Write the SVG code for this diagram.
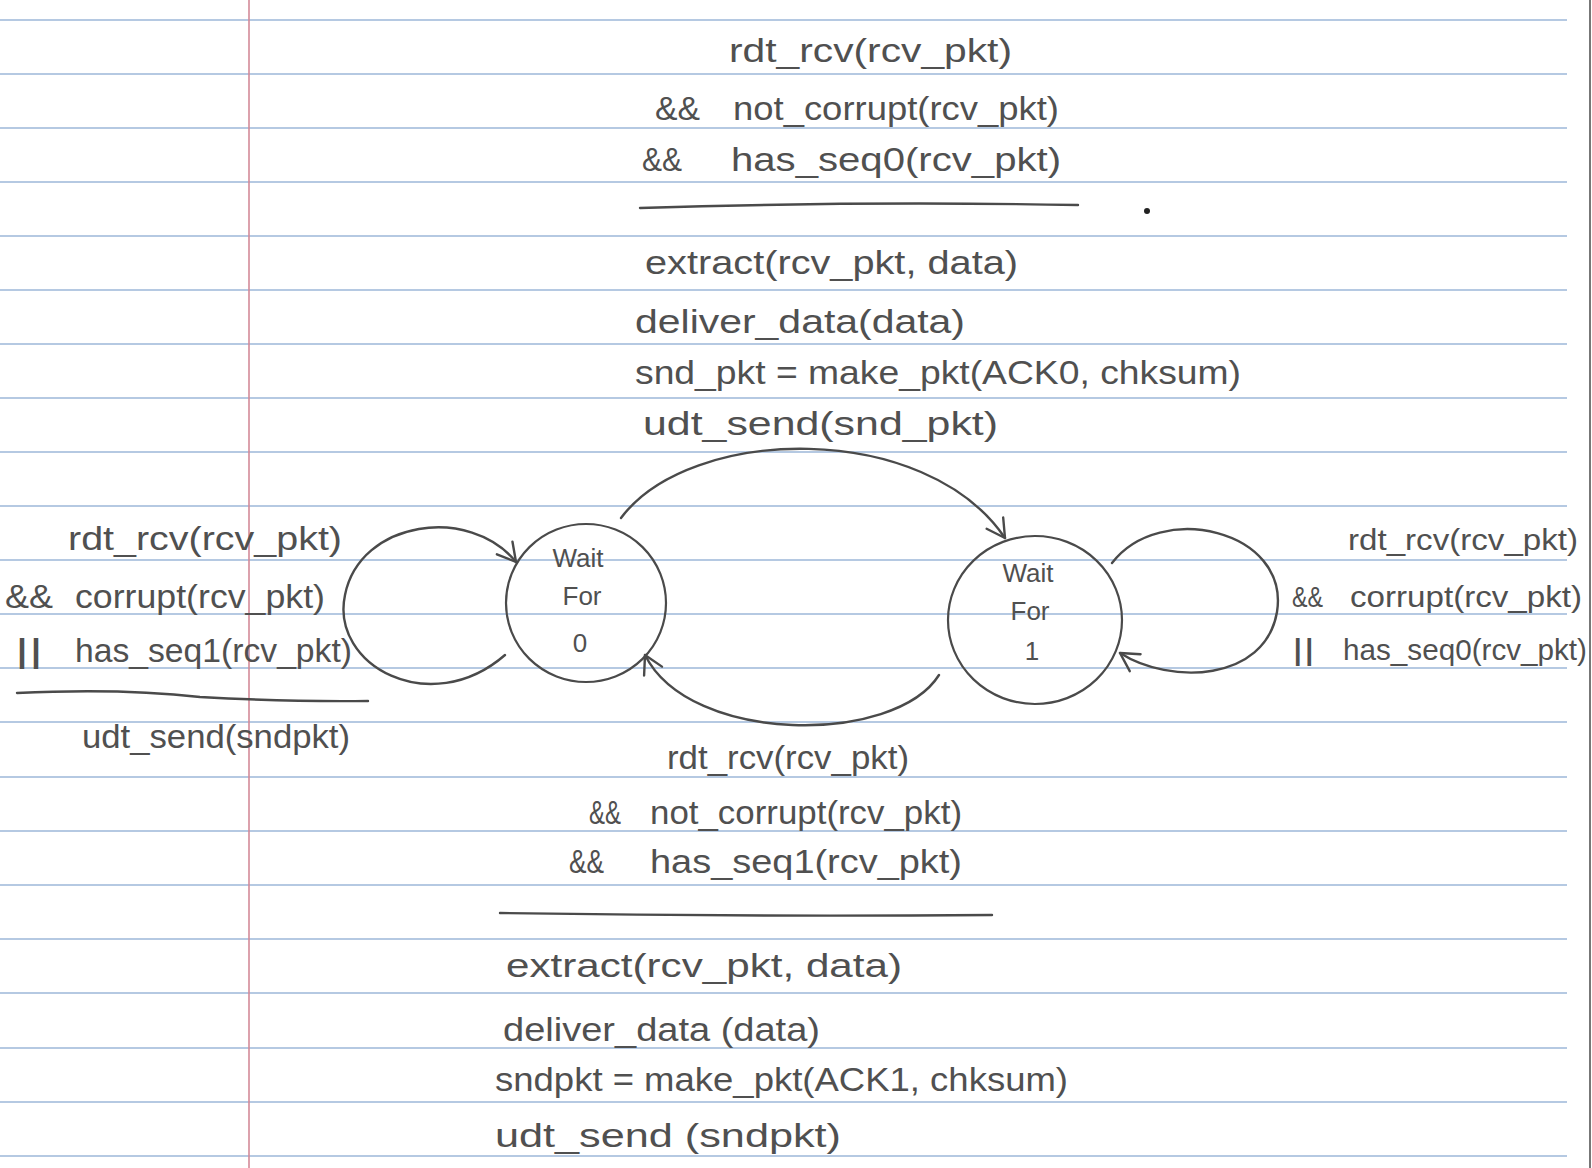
<svg xmlns="http://www.w3.org/2000/svg" width="1592" height="1168" viewBox="0 0 1592 1168">
<defs>
<style>
.rule{stroke:#9db7d8;stroke-width:1.6}
.t{font-family:"Liberation Sans",sans-serif;fill:#505050;font-size:34px}
.s{font-size:30px}
.n{font-family:"Liberation Sans",sans-serif;fill:#505050;font-size:26px;text-anchor:middle}
.pen{fill:none;stroke:#4a4a4a;stroke-width:2.4;stroke-linecap:round}
.node ellipse{fill:none;stroke:#4a4a4a;stroke-width:2.2}
</style>
<marker id="arr" viewBox="0 0 24 24" refX="21" refY="12" markerWidth="24" markerHeight="24" markerUnits="userSpaceOnUse" orient="auto">
<path d="M3 2 L21 12 L3 22" fill="none" stroke="#4a4a4a" stroke-width="2.4" stroke-linecap="round" stroke-linejoin="round"/>
</marker>
</defs>
<rect width="1592" height="1168" fill="#ffffff"/>
<g id="paper">
<g class="rule">
<line x1="0" y1="20" x2="1567" y2="20"/>
<line x1="0" y1="74" x2="1567" y2="74"/>
<line x1="0" y1="128" x2="1567" y2="128"/>
<line x1="0" y1="182" x2="1567" y2="182"/>
<line x1="0" y1="236" x2="1567" y2="236"/>
<line x1="0" y1="290" x2="1567" y2="290"/>
<line x1="0" y1="344" x2="1567" y2="344"/>
<line x1="0" y1="398" x2="1567" y2="398"/>
<line x1="0" y1="452" x2="1567" y2="452"/>
<line x1="0" y1="506" x2="1567" y2="506"/>
<line x1="0" y1="560" x2="1567" y2="560"/>
<line x1="0" y1="614" x2="1567" y2="614"/>
<line x1="0" y1="668" x2="1567" y2="668"/>
<line x1="0" y1="722" x2="1567" y2="722"/>
<line x1="0" y1="777" x2="1567" y2="777"/>
<line x1="0" y1="831" x2="1567" y2="831"/>
<line x1="0" y1="885" x2="1567" y2="885"/>
<line x1="0" y1="939" x2="1567" y2="939"/>
<line x1="0" y1="993" x2="1567" y2="993"/>
<line x1="0" y1="1048" x2="1567" y2="1048"/>
<line x1="0" y1="1102" x2="1567" y2="1102"/>
<line x1="0" y1="1156" x2="1567" y2="1156"/>
</g>
<line x1="249" y1="0" x2="249" y2="1168" stroke="#d48a98" stroke-width="1.6"/>
<line x1="1590" y1="0" x2="1590" y2="1168" stroke="#777" stroke-width="2"/>
<circle cx="1147" cy="211" r="3" fill="#222"/>
</g>
<g id="label-top">
<text class="t" x="729" y="62" textLength="283" lengthAdjust="spacingAndGlyphs">rdt_rcv(rcv_pkt)</text>
<text class="t" x="655" y="120" textLength="45" lengthAdjust="spacingAndGlyphs">&amp;&amp;</text>
<text class="t" x="733" y="120" textLength="326" lengthAdjust="spacingAndGlyphs">not_corrupt(rcv_pkt)</text>
<text class="t" x="642" y="171" textLength="40" lengthAdjust="spacingAndGlyphs">&amp;&amp;</text>
<text class="t" x="731" y="171" textLength="330" lengthAdjust="spacingAndGlyphs">has_seq0(rcv_pkt)</text>
<path class="pen" d="M640 208 Q 860 201 1078 205"/>
<text class="t" x="645" y="274" textLength="373" lengthAdjust="spacingAndGlyphs">extract(rcv_pkt, data)</text>
<text class="t" x="635" y="333" textLength="330" lengthAdjust="spacingAndGlyphs">deliver_data(data)</text>
<text class="t" x="635" y="384" textLength="606" lengthAdjust="spacingAndGlyphs">snd_pkt = make_pkt(ACK0, chksum)</text>
<text class="t" x="643" y="435" textLength="355" lengthAdjust="spacingAndGlyphs">udt_send(snd_pkt)</text>
</g>
<g id="label-left">
<text class="t" x="68" y="550" textLength="274" lengthAdjust="spacingAndGlyphs">rdt_rcv(rcv_pkt)</text>
<text class="t" x="5" y="608" textLength="48" lengthAdjust="spacingAndGlyphs">&amp;&amp;</text>
<text class="t" x="75" y="608" textLength="250" lengthAdjust="spacingAndGlyphs">corrupt(rcv_pkt)</text>
<text class="t" x="15" y="662" textLength="28" lengthAdjust="spacingAndGlyphs">||</text>
<text class="t" x="75" y="662" textLength="277" lengthAdjust="spacingAndGlyphs">has_seq1(rcv_pkt)</text>
<path class="pen" d="M17 693 Q 120 688 200 697 Q 290 702 368 701"/>
<text class="t" x="82" y="748" textLength="268" lengthAdjust="spacingAndGlyphs">udt_send(sndpkt)</text>
</g>
<g id="label-right">
<text class="t s" x="1348" y="550" textLength="230" lengthAdjust="spacingAndGlyphs">rdt_rcv(rcv_pkt)</text>
<text class="t s" x="1292" y="607" textLength="31" lengthAdjust="spacingAndGlyphs">&amp;&amp;</text>
<text class="t s" x="1350" y="607" textLength="232" lengthAdjust="spacingAndGlyphs">corrupt(rcv_pkt)</text>
<text class="t s" x="1292" y="660" textLength="23" lengthAdjust="spacingAndGlyphs">||</text>
<text class="t s" x="1343" y="660" textLength="244" lengthAdjust="spacingAndGlyphs">has_seq0(rcv_pkt)</text>
</g>
<g id="label-bottom">
<text class="t" x="667" y="769" textLength="242" lengthAdjust="spacingAndGlyphs">rdt_rcv(rcv_pkt)</text>
<text class="t" x="589" y="824" textLength="32" lengthAdjust="spacingAndGlyphs">&amp;&amp;</text>
<text class="t" x="650" y="824" textLength="312" lengthAdjust="spacingAndGlyphs">not_corrupt(rcv_pkt)</text>
<text class="t" x="569" y="873" textLength="35" lengthAdjust="spacingAndGlyphs">&amp;&amp;</text>
<text class="t" x="650" y="873" textLength="312" lengthAdjust="spacingAndGlyphs">has_seq1(rcv_pkt)</text>
<path class="pen" d="M500 913 Q 750 917 992 915"/>
<text class="t" x="506" y="977" textLength="396" lengthAdjust="spacingAndGlyphs">extract(rcv_pkt, data)</text>
<text class="t" x="503" y="1041" textLength="317" lengthAdjust="spacingAndGlyphs">deliver_data (data)</text>
<text class="t" x="495" y="1091" textLength="573" lengthAdjust="spacingAndGlyphs">sndpkt = make_pkt(ACK1, chksum)</text>
<text class="t" x="495" y="1147" textLength="346" lengthAdjust="spacingAndGlyphs">udt_send (sndpkt)</text>
</g>
<g id="node-wait0" class="node">
<ellipse cx="586" cy="603" rx="80" ry="79"/>
<text class="n" x="578" y="567">Wait</text>
<text class="n" x="582" y="605">For</text>
<text class="n" x="580" y="652">0</text>
</g>
<g id="node-wait1" class="node">
<ellipse cx="1035" cy="620" rx="87" ry="84"/>
<text class="n" x="1028" y="582">Wait</text>
<text class="n" x="1030" y="620">For</text>
<text class="n" x="1032" y="660">1</text>
</g>
<g id="connectors">
<path class="pen" marker-end="url(#arr)" d="M621 518 C 690 425, 925 420, 1005 538"/>
<path class="pen" marker-end="url(#arr)" d="M939 675 C 895 745, 690 745, 645 655"/>
<path class="pen" marker-end="url(#arr)" d="M505 655 C 430 720, 330 665, 345 595 C 360 520, 470 505, 516 562"/>
<path class="pen" marker-end="url(#arr)" d="M1112 563 C 1160 500, 1290 530, 1277 612 C 1265 682, 1170 685, 1120 653"/>
</g>
</svg>
